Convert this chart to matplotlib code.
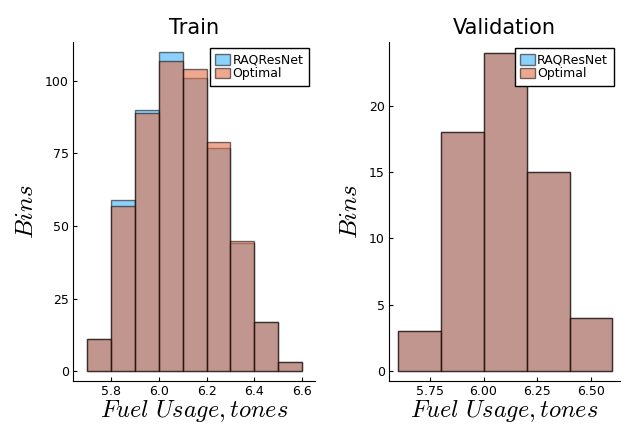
import matplotlib.pyplot as plt
import matplotlib.colors as mcolors
import numpy as np

# данные гистограмм
train_edges = np.round(np.arange(5.7, 6.61, 0.1), 2)
train_raq = [11, 59, 90, 110, 101, 77, 44, 17, 3]
train_opt = [11, 57, 89, 107, 104, 79, 45, 17, 3]

val_edges = np.round(np.arange(5.6, 6.61, 0.2), 2)
val_raq = [3, 18, 24, 15, 4]
val_opt = [3, 18, 24, 15, 4]

blue = mcolors.to_rgba("#009AFA", 0.45)
orange = mcolors.to_rgba("#E36F47", 0.6)
edge = (0, 0, 0, 0.55)

plt.rcParams['mathtext.fontset'] = 'cm'

fig, axes = plt.subplots(1, 2, figsize=(6.31, 4.25), dpi=100)

def draw(ax, edges, raq, opt, title, xlim, ylim, yticks, xticks, xfmt):
    widths = np.diff(edges)
    ax.bar(edges[:-1], raq, width=widths, align='edge', color=blue,
           edgecolor=edge, linewidth=1.0, label="RAQResNet")
    ax.bar(edges[:-1], opt, width=widths, align='edge', color=orange,
           edgecolor=edge, linewidth=1.0, label="Optimal")
    ax.set_title(title, fontsize=15)
    ax.set_xlim(*xlim)
    ax.set_ylim(*ylim)
    ax.set_yticks(yticks)
    ax.set_xticks(xticks)
    ax.set_xticklabels([xfmt % t for t in xticks])
    ax.set_xlabel(r"$Fuel\ Usage, tones$", fontsize=17.5, labelpad=0)
    ax.set_ylabel(r"$Bins$", fontsize=18, labelpad=5)
    ax.spines['top'].set_visible(False)
    ax.spines['right'].set_visible(False)
    ax.tick_params(direction='in', labelsize=9, length=3, pad=3)
    ax.legend(loc='upper right', fontsize=9, fancybox=False, edgecolor='black',
              handlelength=1.2, handleheight=0.9, handletextpad=0.15,
              borderpad=0.45, labelspacing=0.05, borderaxespad=0.5,
              framealpha=1.0)

draw(axes[0], train_edges, train_raq, train_opt, "Train",
     (5.64, 6.655), (-3.4, 113.4), [0, 25, 50, 75, 100],
     [5.8, 6.0, 6.2, 6.4, 6.6], "%.1f")
draw(axes[1], val_edges, val_raq, val_opt, "Validation",
     (5.56, 6.635), (-0.75, 24.8), [0, 5, 10, 15, 20],
     [5.75, 6.0, 6.25, 6.5], "%.2f")

axes[0].set_position([73/631, 1-381/425, (315-73)/631, (381-42)/425])
axes[1].set_position([389/631, 1-381/425, (620-389)/631, (381-42)/425])

plt.savefig("out.png", dpi=100)
